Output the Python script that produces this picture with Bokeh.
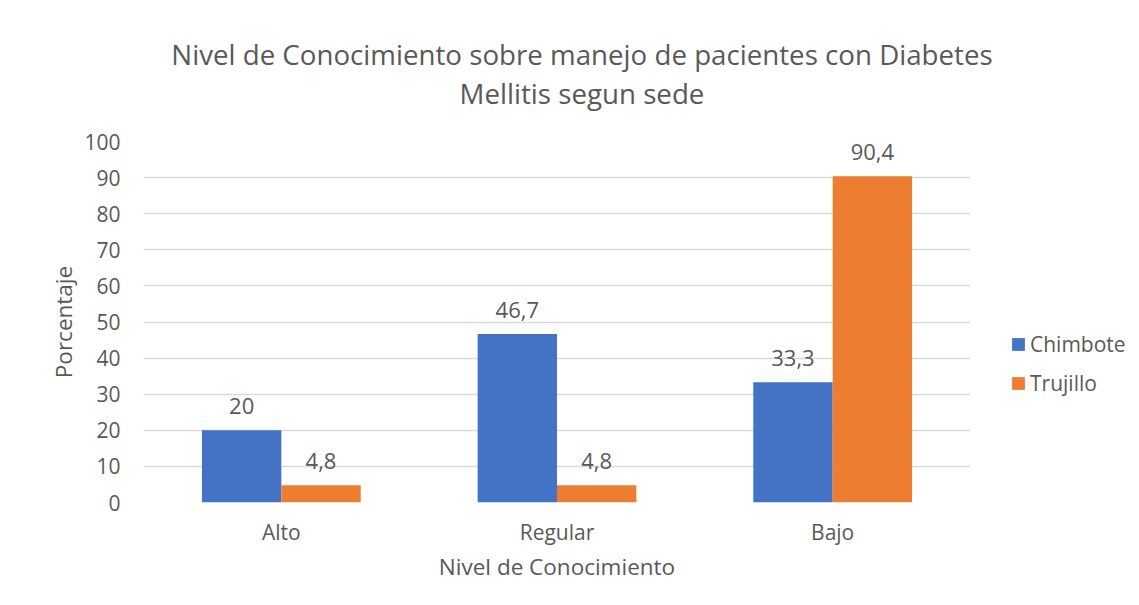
from bokeh.plotting import figure
from bokeh.models import FactorRange, ColumnDataSource, Legend, LegendItem, LabelSet, FixedTicker, Div
from bokeh.layouts import column, row
from bokeh.core.properties import value
from bokeh.transform import dodge
from bokeh.embed import file_html
from bokeh.resources import INLINE

categories = ["Alto", "Regular", "Bajo"]
chimbote = [20.0, 46.7, 33.3]
trujillo = [4.8, 4.8, 90.4]
series_names = ["Chimbote", "Trujillo"]
y_ticks = [0, 10, 20, 30, 40, 50, 60, 70, 80, 90, 100]
title_lines = ["Nivel de Conocimiento sobre manejo de pacientes con Diabetes", "Mellitis segun sede"]
x_label = "Nivel de Conocimiento"
y_label = "Porcentaje"

def fmt(v):
    s = ("%g" % v)
    return s.replace(".", ",")

FONT = "Open Sans"
TXT = "#595959"
GRID = "#d9d9d9"
BLUE = "#4472C4"
ORANGE = "#ED7D31"
colors = [BLUE, ORANGE]

# ---- title (HTML text) ----
title_html = (
    '<div style="font-family:\'Open Sans\';font-size:27.7px;line-height:39px;color:%s;'
    'text-align:center;margin-left:33px;width:1098px;padding-top:35px;white-space:nowrap;">%s</div>'
    % (TXT, "<br>".join(title_lines))
)
title_div = Div(text=title_html, width=1131, height=121, margin=0)

# ---- main chart ----
src = ColumnDataSource(dict(
    cat=categories,
    chimbote=chimbote,
    trujillo=trujillo,
    lab_c=[fmt(v) for v in chimbote],
    lab_t=[fmt(v) for v in trujillo],
))

p = figure(x_range=FactorRange(*categories, range_padding=0), y_range=(0, 100),
           frame_width=827, frame_height=361, output_backend="svg", toolbar_location=None,
           min_border_left=143, min_border_right=0, min_border_top=20, min_border_bottom=95,
           margin=0)
p.x_range.range_padding = 0

w = 0.288
r1 = p.vbar(x=dodge("cat", -w / 2, range=p.x_range), top="chimbote", width=w, source=src,
            fill_color=BLUE, line_color=None)
r2 = p.vbar(x=dodge("cat", w / 2, range=p.x_range), top="trujillo", width=w, source=src,
            fill_color=ORANGE, line_color=None)

for col, lab, off in (("chimbote", "lab_c", -w / 2), ("trujillo", "lab_t", w / 2)):
    ls = LabelSet(x=dodge("cat", off, range=p.x_range), y=col, text=lab, source=src,
                  text_align="center", text_baseline="alphabetic", y_offset=16,
                  text_font=value(FONT), text_font_size="22px", text_color=TXT)
    p.add_layout(ls)

p.outline_line_color = None
p.xgrid.grid_line_color = None
p.ygrid.grid_line_color = GRID
p.ygrid.grid_line_width = 1.5
p.yaxis.ticker = FixedTicker(ticks=y_ticks)

for ax in (p.xaxis[0], p.yaxis[0]):
    ax.axis_line_color = None
    ax.major_tick_line_color = None
    ax.minor_tick_line_color = None
    ax.major_label_text_font = FONT
    ax.major_label_text_font_size = "21px"
    ax.major_label_text_color = TXT
    ax.axis_label_text_font = FONT
    ax.axis_label_text_font_size = "22.5px"
    ax.axis_label_text_font_style = "normal"
    ax.axis_label_text_color = TXT

p.yaxis.axis_label = y_label
p.xaxis.axis_label = x_label
p.yaxis.major_label_standoff = 17
p.yaxis.axis_label_standoff = 2
p.xaxis.major_label_standoff = 9
p.xaxis.axis_label_standoff = 2

# ---- legend panel ----
p2 = figure(width=161, height=476, x_axis_location=None, y_axis_location=None,
            x_range=(0, 1), y_range=(0, 1),
            toolbar_location=None, output_backend="svg", min_border=0, margin=0)
p2.outline_line_color = None
p2.grid.visible = False
lr = [p2.vbar(x=[-5], top=[0], width=0, fill_color=c, line_color=None) for c in colors]

legend = Legend(items=[LegendItem(label=n, renderers=[r]) for n, r in zip(series_names, lr)],
                location=(40, 105), orientation="vertical",
                label_text_font=FONT, label_text_font_size="21px", label_text_color=TXT,
                glyph_width=16, glyph_height=16, label_height=16, spacing=11,
                padding=0, margin=0, border_line_color=None, background_fill_alpha=0,
                label_standoff=4)
p2.add_layout(legend, "center")

layout = column(title_div, row(p, p2, spacing=0), spacing=0)

open("out.html", "w").write(file_html(layout, INLINE))
